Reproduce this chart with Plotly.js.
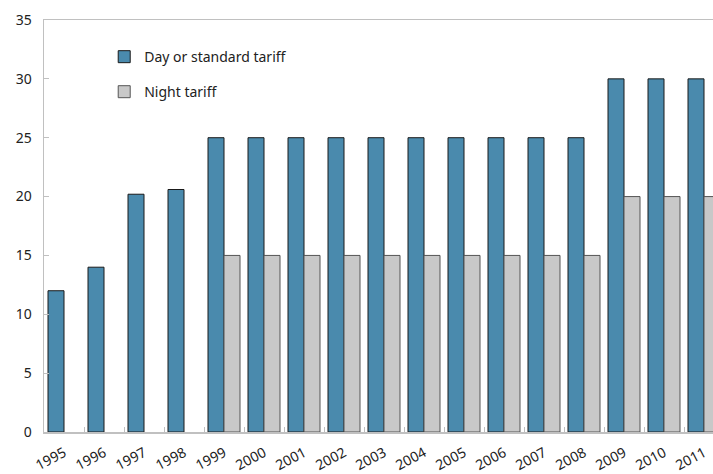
<!DOCTYPE html>
<html>
<head>
<meta charset="utf-8">
<script src="https://cdn.plot.ly/plotly-3.0.1.min.js"></script>
<style>html,body{margin:0;padding:0;background:#fff;}#chart{width:713px;height:474px;}</style>
</head>
<body>
<div id="chart"></div>
<script>
const years = ["1995","1996","1997","1998","1999","2000","2001","2002","2003","2004","2005","2006","2007","2008","2009","2010","2011"];
const dayTariff = [12, 14, 20.2, 20.6, 25, 25, 25, 25, 25, 25, 25, 25, 25, 25, 30, 30, 30];
const nightTariff = [null, null, null, null, 15, 15, 15, 15, 15, 15, 15, 15, 15, 15, 20, 20, 20];
const yTicks = [0, 5, 10, 15, 20, 25, 30, 35];

const font = "'Noto Sans', 'Open Sans', sans-serif";
const traces = [
  {type: "bar", name: "Day or standard tariff", x: years, y: dayTariff,
   marker: {color: "#4A8AAD", line: {color: "#1a1a1a", width: 1}}, legend: "legend"},
  {type: "bar", name: "Night tariff", x: years, y: nightTariff,
   marker: {color: "#C8C8C8", line: {color: "#555555", width: 1}}, legend: "legend2"}
];
const layout = {
  width: 713, height: 474,
  margin: {l: 44, r: 0, t: 20, b: 42},
  paper_bgcolor: "#fff", plot_bgcolor: "#fff",
  barmode: "group", bargap: 0.2, bargroupgap: 0,
  font: {family: font, size: 14, color: "#222"},
  xaxis: {
    type: "category", range: [-0.5, 16.225],
    tickangle: -28, ticks: "inside", ticklen: 5, tickcolor: "#C0C0C0",
    tickson: "boundaries", ticklabelstandoff: 6,
    showline: true, linecolor: "#C0C0C0", linewidth: 1.5, mirror: true,
    showgrid: false, zeroline: false,
    tickfont: {family: font, size: 14, color: "#222"}
  },
  yaxis: {
    range: [0, 35], tickvals: yTicks, ticktext: yTicks.map(String),
    ticks: "inside", ticklen: 5, tickcolor: "#C0C0C0",
    showline: true, linecolor: "#C0C0C0", linewidth: 1.5,
    showgrid: false, zeroline: false, ticklabelstandoff: 8,
    tickfont: {family: font, size: 14, color: "#222"}
  },
  showlegend: true,
  legend: {x: 0.09, y: 0.91, xanchor: "left", yanchor: "middle", bgcolor: "rgba(0,0,0,0)",
           font: {family: font, size: 14, color: "#222"}},
  legend2: {x: 0.09, y: 0.825, xanchor: "left", yanchor: "middle", bgcolor: "rgba(0,0,0,0)",
           font: {family: font, size: 14, color: "#222"}}
};
Plotly.newPlot("chart", traces, layout, {displayModeBar: false, staticPlot: true});
</script>
</body>
</html>
